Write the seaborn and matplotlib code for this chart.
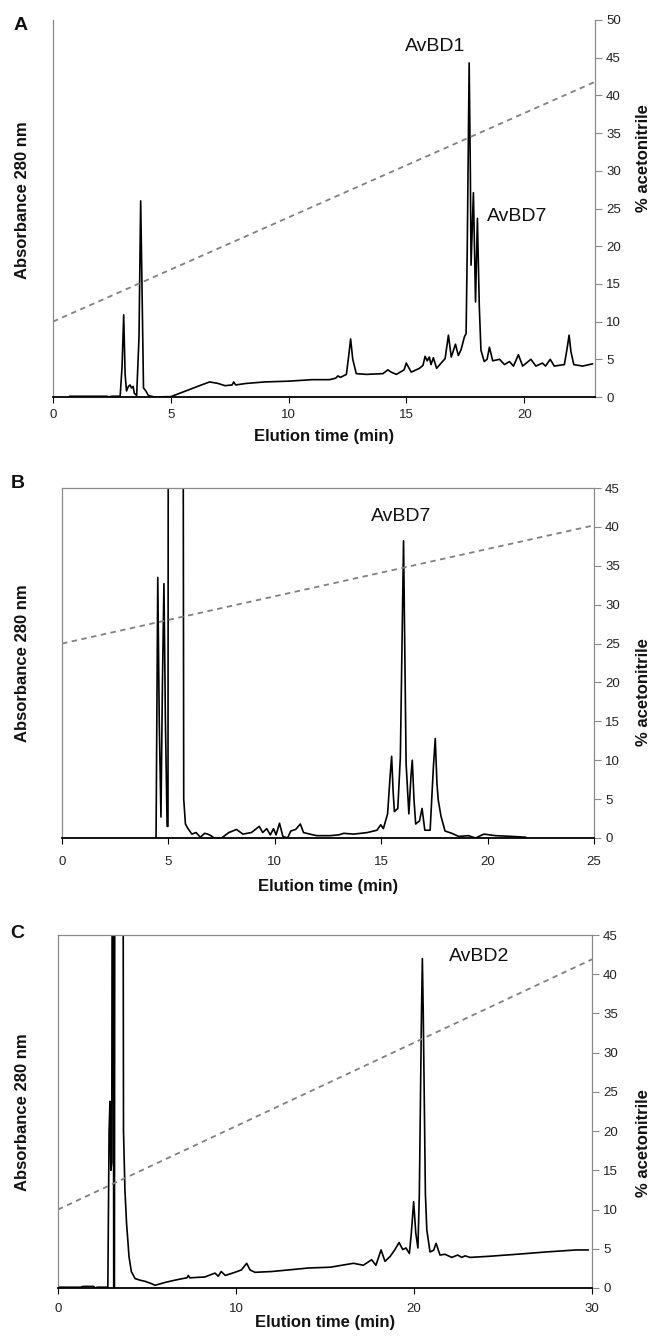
import numpy as np
import matplotlib
matplotlib.use("Agg")
import matplotlib.pyplot as plt
import seaborn as sns

# panel A trace (time in min, absorbance read on the right axis scale)
a_time = [0.7, 2.3, 2.35, 2.5, 2.85, 2.93, 3.0, 3.06, 3.12, 3.2, 3.27, 3.33, 3.4, 3.45, 3.55,
          3.65, 3.72, 3.78, 3.84, 3.94, 4.05, 4.3, 5.0, 5.3, 5.8, 6.3, 6.65, 7.0, 7.3, 7.6,
          7.67, 7.75, 8.2, 9.0, 10.0, 11.0, 11.74, 12.0, 12.09, 12.2, 12.45, 12.55, 12.63,
          12.72, 12.87, 13.3, 14.0, 14.21, 14.35, 14.57, 14.9, 14.99, 15.2, 15.55, 15.7,
          15.79, 15.88, 15.97, 16.04, 16.14, 16.28, 16.47, 16.64, 16.78, 16.9, 17.08, 17.2,
          17.32, 17.46, 17.53, 17.58, 17.66, 17.71, 17.74, 17.84, 17.93, 18.01, 18.09,
          18.16, 18.3, 18.42, 18.52, 18.66, 18.95, 19.16, 19.37, 19.54, 19.75, 19.93,
          20.28, 20.49, 20.77, 20.9, 21.1, 21.27, 21.7, 21.82, 21.9, 21.98, 22.1, 22.47, 22.9]
a_abs = [0.1, 0.1, 0.0, 0.1, 0.1, 4.0, 10.9, 3.0, 0.8, 1.4, 1.6, 1.2, 1.4, 0.5, 0.2,
         8.0, 26.0, 14.0, 1.2, 0.8, 0.2, 0.0, 0.05, 0.4, 1.0, 1.6, 2.0, 1.8, 1.5, 1.6,
         2.0, 1.6, 1.8, 2.0, 2.1, 2.3, 2.3, 2.5, 2.8, 2.6, 3.0, 5.5, 7.7,
         5.0, 3.1, 3.0, 3.1, 3.6, 3.3, 3.0, 3.6, 4.5, 3.3, 3.8, 4.2,
         5.4, 4.8, 5.3, 4.3, 5.2, 3.8, 4.5, 5.1, 8.2, 5.3, 7.0, 5.5,
         6.3, 8.0, 8.4, 20.0, 44.3, 30.0, 17.5, 27.1, 12.6, 23.7, 12.0,
         6.2, 4.7, 5.0, 6.6, 4.8, 5.0, 4.3, 4.7, 4.1, 5.6, 4.1,
         5.0, 4.1, 4.5, 4.1, 5.0, 4.1, 4.3, 6.5, 8.2, 6.0, 4.3, 4.1, 4.4]
a_grad_time = [0, 23]
a_grad_pct = [10.0, 41.8]

# panel B trace (the 5.0-5.7 min peak runs off scale)
b_time = [4.42, 4.5, 4.57, 4.65, 4.72, 4.79, 4.86, 4.94, 4.98, 5.0, 5.68, 5.72, 5.8, 5.9,
          6.1, 6.3, 6.5, 6.7, 6.85, 7.0, 7.15, 7.5, 7.84, 8.2, 8.5, 8.9, 9.27, 9.43, 9.62,
          9.79, 9.94, 10.06, 10.22, 10.38, 10.6, 10.75, 10.98, 11.2, 11.35, 11.65, 11.97,
          12.6, 13.0, 13.24, 13.71, 14.35, 14.8, 14.98, 15.1, 15.3, 15.42, 15.49, 15.56,
          15.62, 15.78, 15.9, 16.05, 16.17, 16.3, 16.4, 16.46, 16.54, 16.62, 16.8, 16.92,
          17.05, 17.3, 17.45, 17.54, 17.62, 17.68, 17.81, 18.0, 18.32, 18.64, 19.1, 19.43,
          19.83, 20.38, 21.17, 21.8]
b_abs = [0.0, 33.5, 15.0, 2.7, 20.0, 32.7, 15.0, 1.5, 1.5, 80.0, 80.0, 5.0, 1.8, 1.3,
         0.5, 0.7, 0.1, 0.6, 0.5, 0.3, 0.0, 0.0, 0.7, 1.1, 0.5, 0.7, 1.5, 0.7, 1.2,
         0.4, 1.2, 0.4, 1.9, 0.2, 0.0, 0.9, 1.1, 1.8, 0.7, 0.5, 0.3,
         0.3, 0.4, 0.6, 0.5, 0.7, 1.0, 1.7, 1.2, 3.1, 8.0, 10.5, 6.0,
         3.4, 3.8, 10.4, 38.2, 9.6, 3.1, 8.0, 10.0, 5.0, 1.8, 2.2, 3.8,
         1.0, 1.0, 9.0, 12.8, 7.0, 4.9, 2.8, 0.9, 0.6, 0.2, 0.3, 0.0,
         0.5, 0.3, 0.2, 0.1]
b_grad_time = [0, 25]
b_grad_pct = [25.0, 40.2]

# panel C trace (the 3-3.7 min peaks run off scale)
c_time = [0.0, 1.3, 1.4, 2.0, 2.1, 2.2, 2.8, 2.87, 2.92, 2.97, 3.02, 3.06, 3.1, 3.13, 3.17,
          3.2, 3.64, 3.68, 3.76, 3.85, 3.99, 4.12, 4.33, 4.6, 4.89, 5.2, 5.45, 5.7, 6.0,
          6.57, 7.0, 7.25, 7.32, 7.4, 8.24, 8.82, 9.0, 9.17, 9.4, 9.94, 10.3, 10.6, 10.79,
          11.07, 12.0, 12.94, 14.07, 15.3, 16.6, 17.15, 17.62, 17.86, 18.15, 18.37, 18.65,
          18.93, 19.16, 19.37, 19.55, 19.74, 19.85, 19.98, 20.1, 20.22, 20.3, 20.42, 20.47,
          20.52, 20.64, 20.72, 20.9, 21.1, 21.24, 21.46, 21.74, 22.12, 22.46, 22.68, 22.87,
          23.15, 24.27, 25.77, 27.46, 29.1, 29.8]
c_abs = [0.1, 0.1, 0.2, 0.2, 0.0, 0.1, 0.1, 20.0, 23.8, 15.0, 16.0, 80.0, 80.0, 0.1, 0.1,
         80.0, 80.0, 20.0, 12.5, 8.3, 4.0, 2.1, 1.2, 1.0, 0.85, 0.6, 0.35, 0.5, 0.7,
         1.0, 1.2, 1.3, 1.6, 1.3, 1.4, 1.9, 1.5, 2.1, 1.6, 2.0, 2.3, 3.15, 2.3,
         2.0, 2.1, 2.3, 2.55, 2.65, 3.15, 2.9, 3.6, 2.9, 4.85, 3.4, 4.0,
         4.9, 5.8, 4.9, 5.1, 4.4, 7.0, 11.0, 7.0, 5.1, 12.0, 35.0, 42.0,
         35.0, 12.0, 7.4, 4.6, 4.8, 5.7, 4.2, 4.3, 3.9, 4.2, 3.9, 4.1,
         3.9, 4.05, 4.3, 4.6, 4.85, 4.85]
c_grad_time = [0, 30]
c_grad_pct = [10.0, 41.9]

W, H = 654, 1339

sns.set_style("white")
plt.rcParams['font.family'] = ['Liberation Sans', 'DejaVu Sans']

fig = plt.figure(figsize=(W / 100, H / 100), dpi=100)


def px_rect(left, top, right, bottom):
    return [left / W, 1 - bottom / H, (right - left) / W, (bottom - top) / H]


def panel(rect, t, a, gt, gp, xmax, xticks, ymax, top_spine, xpad):
    ax = fig.add_axes(rect)
    sns.lineplot(x=t, y=a, ax=ax, color='black', linewidth=1.2, estimator=None, sort=False)
    sns.lineplot(x=gt, y=gp, ax=ax, color='#808080', linewidth=1.3, linestyle=(0, (3, 2.5)),
                 estimator=None, sort=False)
    ax.set_xlim(0, xmax)
    ax.set_ylim(0, ymax)
    ax.set_xticks(xticks)
    ax.set_yticks(np.arange(0, ymax + 1, 5))
    ax.yaxis.tick_right()
    for s in ['left', 'right', 'top']:
        ax.spines[s].set_color('#8a8a8a')
        ax.spines[s].set_linewidth(0.9)
    ax.spines['top'].set_visible(top_spine)
    ax.spines['bottom'].set_color('black')
    ax.spines['bottom'].set_linewidth(1.3)
    ax.tick_params(axis='y', which='both', left=False, right=True, length=5, width=0.8,
                   color='#8a8a8a', labelsize=9.5, pad=3, labelcolor='#222222')
    ax.tick_params(axis='x', length=4, width=0.8, color='black', labelsize=9.5, pad=xpad,
                   labelcolor='#222222', bottom=True)
    ax.set_xlabel('')
    ax.set_ylabel('')
    return ax


label_kw = dict(fontsize=12, fontweight='bold', color='#111111')
peak_kw = dict(fontsize=14, color='#111111', ha='center', va='center')
letter_kw = dict(fontsize=14, fontweight='bold', color='#111111', ha='center', va='center')

# A
ax_a = panel(px_rect(53, 20, 595, 397), a_time, a_abs, a_grad_time, a_grad_pct,
             23, [0, 5, 10, 15, 20], 50, False, 5)
ax_a.text(16.2, 46.5, 'AvBD1', **peak_kw)
ax_a.text(19.7, 24.0, 'AvBD7', **peak_kw)
fig.text(21 / W, 1 - 25 / H, 'A', **letter_kw)
fig.text(23 / W, 1 - 200 / H, 'Absorbance 280 nm', rotation=90, ha='center', va='center', **label_kw)
fig.text(644 / W, 1 - 158 / H, '% acetonitrile', rotation=90, ha='center', va='center', **label_kw)
fig.text(324 / W, 1 - 436 / H, 'Elution time (min)', ha='center', va='center', **label_kw)

# B
ax_b = panel(px_rect(62, 488, 594, 838), b_time, b_abs, b_grad_time, b_grad_pct,
             25, [0, 5, 10, 15, 20, 25], 45, True, 9)
ax_b.text(15.94, 41.3, 'AvBD7', **peak_kw)
fig.text(18 / W, 1 - 483 / H, 'B', **letter_kw)
fig.text(23 / W, 1 - 663 / H, 'Absorbance 280 nm', rotation=90, ha='center', va='center', **label_kw)
fig.text(644 / W, 1 - 692 / H, '% acetonitrile', rotation=90, ha='center', va='center', **label_kw)
fig.text(328 / W, 1 - 886 / H, 'Elution time (min)', ha='center', va='center', **label_kw)

# C
ax_c = panel(px_rect(58, 935, 592, 1288), c_time, c_abs, c_grad_time, c_grad_pct,
             30, [0, 10, 20, 30], 45, True, 7)
ax_c.text(23.65, 42.3, 'AvBD2', **peak_kw)
fig.text(17 / W, 1 - 933 / H, 'C', **letter_kw)
fig.text(23 / W, 1 - 1112 / H, 'Absorbance 280 nm', rotation=90, ha='center', va='center', **label_kw)
fig.text(644 / W, 1 - 1143 / H, '% acetonitrile', rotation=90, ha='center', va='center', **label_kw)
fig.text(325 / W, 1 - 1322 / H, 'Elution time (min)', ha='center', va='center', **label_kw)

fig.savefig('out.png', dpi=100)
